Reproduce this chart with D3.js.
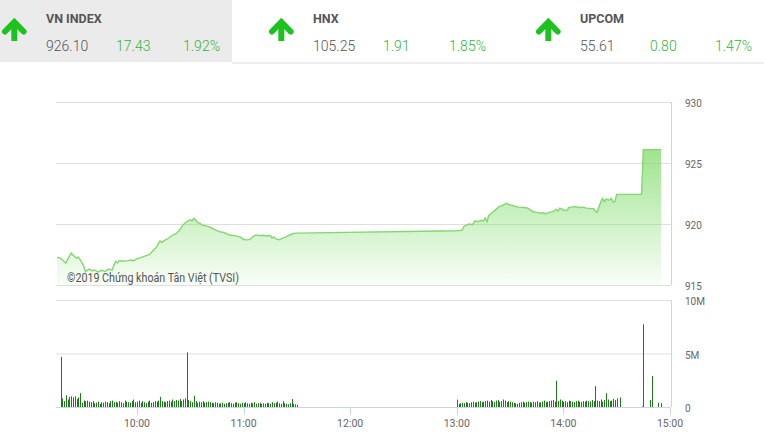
<!DOCTYPE html>
<html>
<head>
<meta charset="utf-8">
<script src="https://cdn.jsdelivr.net/npm/d3@7"></script>
<style>
  body { margin: 0; background: #fff; }
  svg { display: block; font-family: Roboto, 'Noto Sans', sans-serif; }
</style>
</head>
<body>
<div id="chart"></div>
<script>
// header quotes
const indexNames = ['VN INDEX', 'HNX', 'UPCOM'];
const indexValues = ['926.10', '105.25', '55.61'];
const indexChanges = ['17.43', '1.91', '0.80'];
const indexPcts = ['1.92%', '1.85%', '1.47%'];

// intraday price (VN-Index)
const priceTimes = [
  '09:15', '09:17', '09:18', '09:20', '09:21', '09:23', '09:24', '09:26', '09:27', '09:29',
  '09:30', '09:31', '09:33', '09:35', '09:36', '09:38', '09:40', '09:42', '09:44', '09:46',
  '09:47', '09:48', '09:49', '09:50', '09:52', '09:55', '09:57', '09:58', '10:00', '10:02',
  '10:04', '10:07', '10:09', '10:11', '10:12', '10:13', '10:14', '10:16', '10:18', '10:19',
  '10:21', '10:22', '10:24', '10:26', '10:28', '10:30', '10:31', '10:32', '10:33', '10:34',
  '10:36', '10:37', '10:39', '10:41', '10:43', '10:45', '10:47', '10:49', '10:51', '10:53',
  '10:55', '10:58', '11:00', '11:01', '11:03', '11:04', '11:05', '11:07', '11:09', '11:11',
  '11:13', '11:15', '11:16', '11:17', '11:18', '11:20', '11:22', '11:24', '11:26', '11:28',
  '11:30',
  '13:00', '13:03', '13:04', '13:06', '13:07', '13:09', '13:10', '13:12', '13:14', '13:15',
  '13:16', '13:17', '13:18', '13:20', '13:22', '13:24', '13:26', '13:28', '13:29', '13:31',
  '13:33', '13:35', '13:38', '13:40', '13:42', '13:43', '13:45', '13:47', '13:49', '13:50',
  '13:52', '13:54', '13:56', '13:57', '13:58', '14:00', '14:02', '14:03', '14:05', '14:07',
  '14:09', '14:11', '14:13', '14:15', '14:17', '14:18', '14:19', '14:20', '14:21', '14:22',
  '14:23', '14:24', '14:26', '14:27', '14:28', '14:29', '14:30', '14:44', '14:45', '14:55',
];
const priceValues = [
  917.27, 917.20, 917.05, 916.80, 917.10, 917.62, 917.45, 917.20, 917.30, 916.85,
  916.55, 916.10, 916.30, 916.15, 916.25, 916.05, 916.20, 916.10, 916.30, 916.20,
  916.60, 916.95, 916.80, 917.00, 916.95, 917.00, 917.05, 916.98, 917.15, 917.22,
  917.35, 917.48, 917.80, 918.10, 918.40, 918.60, 918.50, 918.70, 918.85, 919.00,
  919.15, 919.20, 919.50, 919.95, 920.20, 920.35, 920.25, 920.47, 920.35, 920.15,
  920.00, 919.90, 919.85, 919.75, 919.60, 919.45, 919.35, 919.30, 919.15, 919.08,
  919.05, 918.95, 918.75, 918.70, 918.72, 918.78, 918.95, 919.10, 919.05, 919.08,
  919.02, 919.05, 918.85, 918.95, 918.80, 918.70, 918.85, 918.95, 919.10, 919.22,
  919.25,
  919.45, 919.50, 919.80, 919.95, 920.00, 919.95, 920.25, 920.20, 920.30, 920.25,
  920.50, 920.20, 920.70, 920.95, 921.20, 921.45, 921.55, 921.70, 921.60, 921.55,
  921.45, 921.38, 921.35, 921.30, 921.10, 921.00, 920.95, 920.88, 920.92, 920.82,
  920.95, 921.02, 921.20, 921.05, 921.30, 921.15, 921.10, 921.35, 921.40, 921.42,
  921.35, 921.38, 921.30, 921.28, 921.25, 921.05, 920.95, 921.40, 921.80, 922.10,
  921.85, 922.05, 921.95, 922.10, 921.80, 921.85, 922.43, 922.43, 926.10, 926.10,
];

// volume in millions, one value per minute from the start time
const volMorningStart = '09:17';
const volMorning = [
  4.70, 0.80, 0.55, 1.10, 0.70, 0.95, 1.00, 0.90, 1.00, 0.75, 0.90, 1.30, 0.40, 0.60,
  0.55, 0.60, 0.50, 0.45, 0.55, 0.35, 0.40, 0.50, 0.30, 0.45,
  0.40, 0.50, 0.45, 0.35, 0.55, 0.60, 0.45, 0.50, 0.40, 0.55,
  0.45, 0.35, 0.60, 0.50, 0.45, 0.40, 0.55, 0.70, 0.45, 0.50,
  0.60, 0.40, 0.55, 0.45, 0.35, 0.50, 0.60, 0.40, 0.45, 0.55,
  0.50, 0.60, 0.95, 0.55, 0.50, 0.45, 0.55, 0.60, 0.50, 0.70,
  0.55, 0.65, 0.60, 0.75, 0.55, 0.70, 0.80, 5.10, 0.65, 0.55,
  0.45, 1.05, 0.55, 0.40, 0.50, 0.45, 0.55, 0.40, 0.45, 0.50,
  0.45, 0.40, 0.35, 0.45, 0.40, 0.30, 0.35, 0.40, 0.30, 0.35,
  0.40, 0.45, 0.35, 0.30, 0.40, 0.45, 0.35, 0.30, 0.40, 0.35,
  0.45, 0.35, 0.30, 0.40, 0.35, 0.45, 0.30, 0.35, 0.40, 0.30,
  0.35, 0.30, 0.40, 0.35, 0.30, 0.45, 0.35, 0.40, 0.50, 0.35,
  0.30, 0.55, 0.35, 0.30, 0.25, 0.35, 0.75, 0.30, 0.25, 0.20,
];
const volAfternoonStart = '13:00';
const volAfternoon = [
  0.70, 0.30, 0.35, 0.40, 0.35, 0.45, 0.40, 0.35, 0.45, 0.50,
  0.40, 0.45, 0.50, 0.55, 0.45, 0.50, 0.55, 0.60, 0.50, 0.65,
  0.55, 0.45, 0.60, 0.65, 0.50, 0.55, 0.70, 0.60, 0.45, 0.55,
  0.50, 0.45, 0.40, 0.35, 0.30, 0.40, 0.45, 0.50, 0.40, 0.45,
  0.50, 0.45, 0.40, 0.50, 0.45, 0.55, 0.40, 0.45, 0.50, 0.60,
  0.45, 0.50, 0.55, 0.60, 0.65, 0.50, 2.45, 0.55, 0.70, 0.60,
  0.50, 0.55, 0.45, 0.60, 0.55, 0.50, 0.45, 0.55, 0.60, 0.50,
  0.45, 0.55, 0.50, 0.60, 0.55, 0.50, 0.65, 0.55, 1.95, 0.60,
  0.55, 0.70, 0.50, 0.65, 1.30, 0.70, 0.55, 0.60, 0.75, 0.65,
  0.80, 0.00, 0.90,
];
const volLateTimes = ['14:44', '14:45', '14:49', '14:50', '14:53', '14:55'];
const volLateValues = [0.05, 7.73, 0.65, 2.90, 0.40, 0.35];

// axis ticks
const priceTicks = [915, 920, 925, 930];
const volTicks = [0, 5, 10];
const volTickLabels = ['0', '5M', '10M'];
const timeTicks = ['10:00', '11:00', '12:00', '13:00', '14:00', '15:00'];
const timeDomain = ['09:15', '15:00'];
const credit = '©2019 Chứng khoán Tân Việt (TVSI)';

{
  const W = 764;
  const H = 435;
  const parseT = d3.timeParse('%H:%M');
  const addMin = (t, m) => new Date(parseT(t).getTime() + m * 60000);

  const svg = d3.select('#chart').append('svg')
    .attr('width', W)
    .attr('height', H);

  // ---- header ----
  svg.append('rect').attr('x', 0).attr('y', 0).attr('width', 232).attr('height', 62)
    .attr('fill', '#ebebeb');
  svg.append('rect').attr('x', 232).attr('y', 62).attr('width', W - 232).attr('height', 2)
    .attr('fill', '#eeeeee');

  const panelX = [0, 267, 534];
  const pctRight = [220, 486, 752];
  indexNames.forEach((name, i) => {
    const g = svg.append('g').attr('transform', `translate(${panelX[i]},0)`);
    g.append('path')
      .attr('d', 'M14.3,41 V23')
      .attr('stroke', '#1ec21e').attr('stroke-width', 6).attr('fill', 'none');
    g.append('path')
      .attr('d', 'M5,31.5 L14.3,22 L23.6,31.5')
      .attr('stroke', '#1ec21e').attr('stroke-width', 6).attr('fill', 'none')
      .attr('stroke-linecap', 'round').attr('stroke-linejoin', 'miter');
    g.append('text').attr('x', 46).attr('y', 23.3)
      .attr('font-size', 12.5).attr('font-weight', 'bold').attr('fill', '#555')
      .text(name);
    g.append('text').attr('x', 46).attr('y', 50.5)
      .attr('font-size', 14).attr('font-weight', 300).attr('fill', '#555')
      .text(indexValues[i]);
    g.append('text').attr('x', 116).attr('y', 50.5)
      .attr('font-size', 14).attr('font-weight', 300).attr('fill', '#33b533')
      .text(indexChanges[i]);
    g.append('text').attr('x', pctRight[i] - panelX[i]).attr('y', 50.5)
      .attr('font-size', 14).attr('font-weight', 300).attr('fill', '#33b533')
      .attr('text-anchor', 'end')
      .text(indexPcts[i]);
  });

  // ---- scales ----
  const x = d3.scaleTime().domain(timeDomain.map(parseT)).range([57, 670]);
  const yP = d3.scaleLinear().domain([915, 930]).range([285, 102]);
  const yV = d3.scaleLinear().domain([0, 10]).range([407, 300]);
  const left = 56;
  const right = 671;
  const gridColor = '#dedede';
  const borderColor = '#ccd6e0';

  // ---- price panel ----
  const grad = svg.append('defs').append('linearGradient')
    .attr('id', 'priceFill')
    .attr('gradientUnits', 'userSpaceOnUse')
    .attr('x1', 0).attr('x2', 0)
    .attr('y1', yP(930)).attr('y2', yP(915));
  grad.append('stop').attr('offset', 0).attr('stop-color', '#7fdc69').attr('stop-opacity', 1);
  grad.append('stop').attr('offset', 1).attr('stop-color', '#7fdc69').attr('stop-opacity', 0.05);

  svg.append('g').selectAll('line').data(priceTicks).join('line')
    .attr('x1', left).attr('x2', right)
    .attr('y1', d => yP(d) + 0.5).attr('y2', d => yP(d) + 0.5)
    .attr('stroke', gridColor);
  svg.append('line')
    .attr('x1', right + 0.5).attr('x2', right + 0.5)
    .attr('y1', yP(930)).attr('y2', yP(915))
    .attr('stroke', borderColor);

  const pts = priceTimes.map((t, i) => ({ t: parseT(t), v: priceValues[i] }));
  svg.append('path').datum(pts)
    .attr('fill', 'url(#priceFill)')
    .attr('d', d3.area().x(d => x(d.t)).y0(yP(915)).y1(d => yP(d.v)));
  svg.append('path').datum(pts)
    .attr('fill', 'none')
    .attr('stroke', '#82d86e')
    .attr('stroke-width', 1.4)
    .attr('d', d3.line().x(d => x(d.t)).y(d => yP(d.v)));

  svg.append('text').attr('x', 67).attr('y', 281.5)
    .attr('font-size', 12).attr('fill', '#555')
    .attr('textLength', 172).attr('lengthAdjust', 'spacingAndGlyphs')
    .text(credit);

  svg.append('g').selectAll('text').data(priceTicks).join('text')
    .attr('x', 685).attr('y', d => yP(d) + 5)
    .attr('font-size', 10).attr('fill', '#666')
    .text(d => d);

  // ---- volume panel ----
  svg.append('g').selectAll('line').data(volTicks).join('line')
    .attr('x1', left).attr('x2', right)
    .attr('y1', d => yV(d) + 0.5).attr('y2', d => yV(d) + 0.5)
    .attr('stroke', d => (d === 0 ? borderColor : gridColor));
  svg.append('line')
    .attr('x1', right + 0.5).attr('x2', right + 0.5)
    .attr('y1', yV(10)).attr('y2', yV(0))
    .attr('stroke', borderColor);

  const bars = []
    .concat(volMorning.map((v, i) => ({ t: addMin(volMorningStart, i), v })))
    .concat(volAfternoon.map((v, i) => ({ t: addMin(volAfternoonStart, i), v })))
    .concat(volLateTimes.map((t, i) => ({ t: parseT(t), v: volLateValues[i] })))
    .filter(d => d.v > 0);

  svg.append('g').selectAll('rect').data(bars).join('rect')
    .attr('x', d => Math.round(x(d.t)))
    .attr('width', 1)
    .attr('y', d => yV(d.v))
    .attr('height', d => yV(0) - yV(d.v))
    .attr('fill', '#1f7a1a');

  svg.append('g').selectAll('text').data(volTicks).join('text')
    .attr('x', 685).attr('y', d => yV(d) + 5)
    .attr('font-size', 10).attr('fill', '#666')
    .text((d, i) => volTickLabels[i]);

  // time axis
  const xAxis = svg.append('g').attr('transform', `translate(0,${yV(0) + 0.5})`);
  xAxis.selectAll('line').data(timeTicks).join('line')
    .attr('x1', d => Math.round(x(parseT(d))) + 0.5)
    .attr('x2', d => Math.round(x(parseT(d))) + 0.5)
    .attr('y1', 0).attr('y2', 7)
    .attr('stroke', borderColor);
  xAxis.selectAll('text').data(timeTicks).join('text')
    .attr('x', d => x(parseT(d)))
    .attr('y', 19)
    .attr('text-anchor', 'middle')
    .attr('font-size', 10.5).attr('fill', '#666')
    .text(d => d);
}
</script>
</body>
</html>
